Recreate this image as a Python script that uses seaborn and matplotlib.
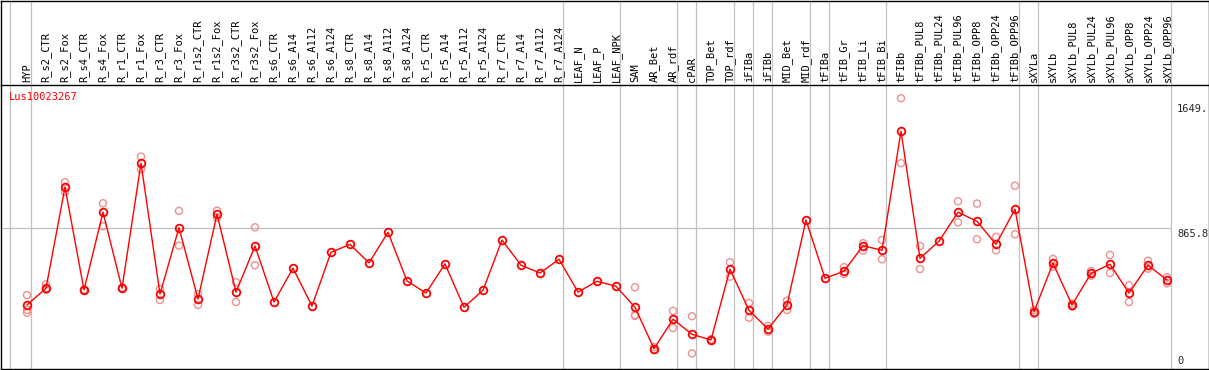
import numpy as np
import pandas as pd
import matplotlib
matplotlib.use("Agg")
import matplotlib.pyplot as plt
import seaborn as sns

labels = ["HYP", "R_s2_CTR", "R_s2_Fox", "R_s4_CTR", "R_s4_Fox", "R_r1_CTR", "R_r1_Fox",
          "R_r3_CTR", "R_r3_Fox", "R_r1s2_CTR", "R_r1s2_Fox", "R_r3s2_CTR", "R_r3s2_Fox",
          "R_s6_CTR", "R_s6_A14", "R_s6_A112", "R_s6_A124", "R_s8_CTR", "R_s8_A14",
          "R_s8_A112", "R_s8_A124", "R_r5_CTR", "R_r5_A14", "R_r5_A112", "R_r5_A124",
          "R_r7_CTR", "R_r7_A14", "R_r7_A112", "R_r7_A124", "LEAF_N", "LEAF_P", "LEAF_NPK",
          "SAM", "AR_Bet", "AR_rdf", "cPAR", "TOP_Bet", "TOP_rdf", "iFIBa", "iFIBb",
          "MID_Bet", "MID_rdf", "tFIBa", "tFIB_Gr", "tFIB_Li", "tFIB_Bi", "tFIBb",
          "tFIBb_PUL8", "tFIBb_PUL24", "tFIBb_PUL96", "tFIBb_OPP8", "tFIBb_OPP24",
          "tFIBb_OPP96", "sXYLa", "sXYLb", "sXYLb_PUL8", "sXYLb_PUL24", "sXYLb_PUL96",
          "sXYLb_OPP8", "sXYLb_OPP24", "sXYLb_OPP96"]

mean_vals = [401, 502, 1112, 492, 961, 502, 1257, 467, 868, 437, 949, 479, 757,
             419, 623, 395, 719, 767, 655, 840, 546, 473, 649, 387, 490,
             793, 641, 594, 677, 479, 544, 514,
             387, 137, 315, 224, 190, 617, 369, 256, 401, 914,
             562, 605, 759, 731, 1450,
             683, 786, 961, 906, 767, 979,
             360, 653, 401, 592, 647, 473, 641, 552]

nan = np.nan
rep_a = [461, 526, 1142, 488, 1015, 500, 1297, 498, 969, 467, 970, 538, 870,
         nan, nan, nan, nan, nan, nan, nan, nan, nan, nan, nan, nan,
         nan, nan, nan, nan, nan, nan, nan,
         508, 129, 365, 333, 186, 659, 413, 274, 427, nan,
         nan, 629, 774, 793, 1649,
         757, nan, 1027, 1013, 812, 1121,
         347, 679, 391, 606, 703, 520, 668, 568]
rep_b = [371, 492, 1085, 495, 877, 505, 1220, 431, 759, 401, 928, 419, 641,
         nan, nan, nan, nan, nan, nan, nan, nan, nan, nan, nan, nan,
         nan, nan, nan, nan, nan, nan, nan,
         335, 147, 262, 109, 194, 572, 324, 240, 371, nan,
         nan, 588, 729, 677, 1257,
         618, nan, 900, 798, 731, 828,
         371, 632, 410, 578, 594, 419, 620, 532]
rep_c = [354, nan, nan, nan, nan, nan, nan, nan, nan, nan, nan, nan, nan,
         nan, nan, nan, nan, nan, nan, nan, nan, nan, nan, nan, nan,
         nan, nan, nan, nan, nan, nan, nan,
         341, nan, nan, nan, nan, nan, nan, nan, nan, nan,
         nan, nan, nan, nan, nan,
         nan, nan, nan, nan, nan, nan,
         nan, nan, nan, nan, nan, nan, nan, nan]

# group separators: drawn just after these samples
group_ends = ["HYP", "R_r7_A124", "LEAF_NPK", "AR_rdf", "cPAR", "TOP_rdf", "iFIBa",
              "iFIBb", "MID_rdf", "tFIBa", "tFIB_Bi", "tFIBb_OPP96", "sXYLa", "sXYLb_OPP96"]
ref_value = 865.8
max_value = 1649
gene_name = "Lus10023267"

idx = np.arange(len(labels))
df_mean = pd.DataFrame({"idx": idx, "value": mean_vals})
df_rep = pd.DataFrame({"idx": np.concatenate([idx, idx, idx]),
                       "value": np.concatenate([rep_a, rep_b, rep_c])}).dropna()

sns.set_theme(style="white")
plt.rcParams["font.family"] = ["DejaVu Sans Mono", "DejaVu Sans"]

W, H = 1209, 370
fig = plt.figure(figsize=(W / 100, H / 100), dpi=100)
left = 1 / W
width = 1207.5 / W
ax = fig.add_axes([left, 1 / H, width, 284 / H])
hdr = fig.add_axes([left, 285 / H, width, 84.5 / H], sharex=ax)
hdr.set_facecolor("none")

x0 = -26 / 19
x1 = 1181.5 / 19
ax.set_xlim(x0, x1)
ax.set_ylim(14.5, 1729)
hdr.set_ylim(0, 1)

grid_col = "#c0c0c0"
sep_pos = [-0.9] + [labels.index(g) + 0.2 for g in group_ends]
for p in sep_pos:
    ax.axvline(p, color=grid_col, lw=0.9, zorder=0)
    hdr.axvline(p, color=grid_col, lw=0.9, zorder=0)
ax.hlines(ref_value, x0, sep_pos[-1], color=grid_col, lw=0.9, zorder=0)

sns.scatterplot(data=df_rep, x="idx", y="value", ax=ax, s=26, marker="o",
                color="#ee9090", linewidth=1.0, zorder=2, legend=False)
coll = ax.collections[-1]
coll.set_facecolor("none")
coll.set_edgecolor("#ee9090")

sns.lineplot(data=df_mean, x="idx", y="value", ax=ax, color="red", lw=1.0,
             marker="o", markersize=5.5, markerfacecolor="none",
             markeredgecolor="red", markeredgewidth=1.3, zorder=3)

for a in (ax, hdr):
    for s in a.spines.values():
        s.set_color("black")
        s.set_linewidth(1.0)
hdr.spines["bottom"].set_visible(False)

ax.xaxis.tick_top()
ax.set_xticks(idx)
ax.set_xticklabels(labels, rotation=90, fontsize=7.5, color="black")
ax.tick_params(axis="x", length=0, pad=2)
ax.set_yticks([])
ax.set_xlabel("")
ax.set_ylabel("")
hdr.set_yticks([])
hdr.tick_params(axis="x", length=0, labelbottom=False, labeltop=False)

lab_x = 1177 / 19 - 27 / 19
ax.annotate(f"{max_value}.", xy=(lab_x, max_value), xytext=(0, -4),
            textcoords="offset points", va="top", ha="left", fontsize=7.5)
ax.annotate(f"{ref_value}", xy=(lab_x, ref_value), xytext=(0, -1),
            textcoords="offset points", va="top", ha="left", fontsize=7.5)
ax.annotate("0", xy=(lab_x, 14.5), xytext=(0, 2),
            textcoords="offset points", va="bottom", ha="left", fontsize=7.5)
ax.text(0.0069, 0.958, gene_name, transform=ax.transAxes, color="red",
        fontsize=7.5, va="center", ha="left")

fig.savefig("out.png", dpi=100)
